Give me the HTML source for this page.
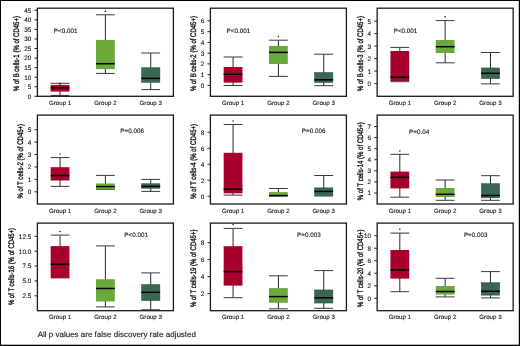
<!DOCTYPE html>
<html><head><meta charset="utf-8"><style>
html,body{margin:0;padding:0;background:#fff;}
body{width:520px;height:346px;overflow:hidden;}
svg{display:block;will-change:transform;}
text{font-family:"Liberation Sans", sans-serif;fill:#111;stroke:#111;stroke-width:0.1px;text-rendering:geometricPrecision;}
.tl{font-size:6.4px;text-anchor:end;}
.gl{font-size:6.2px;text-anchor:middle;}
.p{font-size:6.3px;}
.yl{font-size:8px;text-anchor:middle;stroke-width:0.35px;}
.ft{font-size:8px;}
.w{stroke:#2a2a2a;stroke-width:1;}
.c{stroke:#3a3a3a;stroke-width:1;}
.m{stroke:#000;stroke-width:1.5;}
.t{stroke:#222;stroke-width:1;}
.f{fill:none;stroke:#1a1a1a;stroke-width:1.3;}
</style></head><body>
<svg width="520" height="346" viewBox="0 0 520 346">
<rect x="0" y="0" width="520" height="346" fill="#fff"/>
<rect x="0" y="0" width="520" height="1" fill="#000"/>
<rect x="0" y="0" width="1" height="346" fill="#000"/>
<rect x="518.8" y="0" width="1.2" height="346" fill="#000"/>
<rect x="0" y="344.7" width="520" height="1.3" fill="#000"/>
<line class="w" x1="60.07" y1="83.30" x2="60.07" y2="95.40"/>
<line class="c" x1="50.67" y1="83.30" x2="69.47" y2="83.30"/>
<line class="c" x1="50.67" y1="95.40" x2="69.47" y2="95.40"/>
<rect x="50.67" y="84.90" width="18.80" height="6.70" fill="#a8002c"/>
<line class="m" x1="50.67" y1="87.80" x2="69.47" y2="87.80"/>
<circle cx="60.07" cy="83.30" r="0.75" fill="#111"/>
<line class="w" x1="105.40" y1="14.80" x2="105.40" y2="73.40"/>
<line class="c" x1="96.00" y1="14.80" x2="114.80" y2="14.80"/>
<line class="c" x1="96.00" y1="73.40" x2="114.80" y2="73.40"/>
<rect x="96.00" y="39.90" width="18.80" height="29.20" fill="#6aaa3c"/>
<line class="m" x1="96.00" y1="63.70" x2="114.80" y2="63.70"/>
<circle cx="105.40" cy="11.50" r="0.75" fill="#111"/>
<line class="w" x1="150.73" y1="53.00" x2="150.73" y2="89.60"/>
<line class="c" x1="141.33" y1="53.00" x2="160.13" y2="53.00"/>
<line class="c" x1="141.33" y1="89.60" x2="160.13" y2="89.60"/>
<rect x="141.58" y="67.75" width="18.30" height="14.60" fill="#3a6652" stroke="#24503b" stroke-width="0.5"/>
<line class="m" x1="141.33" y1="78.40" x2="160.13" y2="78.40"/>
<rect class="f" x="37.4" y="8.2" width="136.0" height="88.10"/>
<line class="t" x1="34.50" y1="96.30" x2="37.40" y2="96.30"/>
<text class="tl" x="31.30" y="98.70">0</text>
<line class="t" x1="34.50" y1="86.75" x2="37.40" y2="86.75"/>
<text class="tl" x="31.30" y="89.15">5</text>
<line class="t" x1="34.50" y1="77.19" x2="37.40" y2="77.19"/>
<text class="tl" x="31.30" y="79.59">10</text>
<line class="t" x1="34.50" y1="67.63" x2="37.40" y2="67.63"/>
<text class="tl" x="31.30" y="70.03">15</text>
<line class="t" x1="34.50" y1="58.08" x2="37.40" y2="58.08"/>
<text class="tl" x="31.30" y="60.48">20</text>
<line class="t" x1="34.50" y1="48.52" x2="37.40" y2="48.52"/>
<text class="tl" x="31.30" y="50.92">25</text>
<line class="t" x1="34.50" y1="38.97" x2="37.40" y2="38.97"/>
<text class="tl" x="31.30" y="41.37">30</text>
<line class="t" x1="34.50" y1="29.41" x2="37.40" y2="29.41"/>
<text class="tl" x="31.30" y="31.81">35</text>
<line class="t" x1="34.50" y1="19.86" x2="37.40" y2="19.86"/>
<text class="tl" x="31.30" y="22.26">40</text>
<line class="t" x1="34.50" y1="10.30" x2="37.40" y2="10.30"/>
<text class="tl" x="31.30" y="12.70">45</text>
<text class="gl" x="60.07" y="105.00">Group 1</text>
<text class="gl" x="105.40" y="105.00">Group 2</text>
<text class="gl" x="150.73" y="105.00">Group 3</text>
<text class="p" x="53.80" y="33.00">P&lt;0.001</text>
<text class="yl" textLength="74.90" lengthAdjust="spacingAndGlyphs" transform="translate(19.05,53.55) rotate(-90)">% of B cells-1 (% of CD45+)</text>
<line class="w" x1="233.07" y1="57.00" x2="233.07" y2="85.50"/>
<line class="c" x1="223.67" y1="57.00" x2="242.47" y2="57.00"/>
<line class="c" x1="223.67" y1="85.50" x2="242.47" y2="85.50"/>
<rect x="223.67" y="67.00" width="18.80" height="15.60" fill="#a8002c"/>
<line class="m" x1="223.67" y1="74.30" x2="242.47" y2="74.30"/>
<line class="w" x1="278.40" y1="40.20" x2="278.40" y2="76.40"/>
<line class="c" x1="269.00" y1="40.20" x2="287.80" y2="40.20"/>
<line class="c" x1="269.00" y1="76.40" x2="287.80" y2="76.40"/>
<rect x="269.00" y="45.90" width="18.80" height="18.10" fill="#6aaa3c"/>
<line class="m" x1="269.00" y1="52.40" x2="287.80" y2="52.40"/>
<circle cx="278.40" cy="36.50" r="0.75" fill="#111"/>
<line class="w" x1="323.73" y1="54.20" x2="323.73" y2="85.70"/>
<line class="c" x1="314.33" y1="54.20" x2="333.13" y2="54.20"/>
<line class="c" x1="314.33" y1="85.70" x2="333.13" y2="85.70"/>
<rect x="314.58" y="72.45" width="18.30" height="10.10" fill="#3a6652" stroke="#24503b" stroke-width="0.5"/>
<line class="m" x1="314.33" y1="79.80" x2="333.13" y2="79.80"/>
<rect class="f" x="210.4" y="8.2" width="136.0" height="88.10"/>
<line class="t" x1="207.50" y1="85.40" x2="210.40" y2="85.40"/>
<text class="tl" x="204.30" y="87.80">0</text>
<line class="t" x1="207.50" y1="74.65" x2="210.40" y2="74.65"/>
<text class="tl" x="204.30" y="77.05">1</text>
<line class="t" x1="207.50" y1="63.90" x2="210.40" y2="63.90"/>
<text class="tl" x="204.30" y="66.30">2</text>
<line class="t" x1="207.50" y1="53.15" x2="210.40" y2="53.15"/>
<text class="tl" x="204.30" y="55.55">3</text>
<line class="t" x1="207.50" y1="42.40" x2="210.40" y2="42.40"/>
<text class="tl" x="204.30" y="44.80">4</text>
<line class="t" x1="207.50" y1="31.65" x2="210.40" y2="31.65"/>
<text class="tl" x="204.30" y="34.05">5</text>
<line class="t" x1="207.50" y1="20.90" x2="210.40" y2="20.90"/>
<text class="tl" x="204.30" y="23.30">6</text>
<text class="gl" x="233.07" y="105.00">Group 1</text>
<text class="gl" x="278.40" y="105.00">Group 2</text>
<text class="gl" x="323.73" y="105.00">Group 3</text>
<text class="p" x="226.60" y="32.70">P&lt;0.001</text>
<text class="yl" textLength="74.90" lengthAdjust="spacingAndGlyphs" transform="translate(195.80,53.55) rotate(-90)">% of B cells-2 (% of CD45+)</text>
<line class="w" x1="399.82" y1="47.40" x2="399.82" y2="81.70"/>
<line class="c" x1="390.42" y1="47.40" x2="409.22" y2="47.40"/>
<line class="c" x1="390.42" y1="81.70" x2="409.22" y2="81.70"/>
<rect x="390.42" y="51.00" width="18.80" height="30.00" fill="#a8002c"/>
<line class="m" x1="390.42" y1="77.30" x2="409.22" y2="77.30"/>
<line class="w" x1="445.15" y1="20.60" x2="445.15" y2="62.80"/>
<line class="c" x1="435.75" y1="20.60" x2="454.55" y2="20.60"/>
<line class="c" x1="435.75" y1="62.80" x2="454.55" y2="62.80"/>
<rect x="435.75" y="40.00" width="18.80" height="13.00" fill="#6aaa3c"/>
<line class="m" x1="435.75" y1="46.70" x2="454.55" y2="46.70"/>
<circle cx="445.15" cy="16.70" r="0.75" fill="#111"/>
<line class="w" x1="490.48" y1="52.50" x2="490.48" y2="83.90"/>
<line class="c" x1="481.08" y1="52.50" x2="499.88" y2="52.50"/>
<line class="c" x1="481.08" y1="83.90" x2="499.88" y2="83.90"/>
<rect x="481.33" y="67.95" width="18.30" height="10.70" fill="#3a6652" stroke="#24503b" stroke-width="0.5"/>
<line class="m" x1="481.08" y1="73.30" x2="499.88" y2="73.30"/>
<rect class="f" x="377.15" y="8.2" width="136.0" height="88.10"/>
<line class="t" x1="374.25" y1="83.60" x2="377.15" y2="83.60"/>
<text class="tl" x="371.05" y="86.00">0</text>
<line class="t" x1="374.25" y1="71.10" x2="377.15" y2="71.10"/>
<text class="tl" x="371.05" y="73.50">1</text>
<line class="t" x1="374.25" y1="58.60" x2="377.15" y2="58.60"/>
<text class="tl" x="371.05" y="61.00">2</text>
<line class="t" x1="374.25" y1="46.10" x2="377.15" y2="46.10"/>
<text class="tl" x="371.05" y="48.50">3</text>
<line class="t" x1="374.25" y1="33.60" x2="377.15" y2="33.60"/>
<text class="tl" x="371.05" y="36.00">4</text>
<line class="t" x1="374.25" y1="21.10" x2="377.15" y2="21.10"/>
<text class="tl" x="371.05" y="23.50">5</text>
<text class="gl" x="399.82" y="105.00">Group 1</text>
<text class="gl" x="445.15" y="105.00">Group 2</text>
<text class="gl" x="490.48" y="105.00">Group 3</text>
<text class="p" x="393.70" y="33.20">P&lt;0.001</text>
<text class="yl" textLength="74.90" lengthAdjust="spacingAndGlyphs" transform="translate(362.80,53.55) rotate(-90)">% of B cells-3 (% of CD45+)</text>
<line class="w" x1="60.07" y1="157.60" x2="60.07" y2="186.40"/>
<line class="c" x1="50.67" y1="157.60" x2="69.47" y2="157.60"/>
<line class="c" x1="50.67" y1="186.40" x2="69.47" y2="186.40"/>
<rect x="50.67" y="167.20" width="18.80" height="13.30" fill="#a8002c"/>
<line class="m" x1="50.67" y1="175.50" x2="69.47" y2="175.50"/>
<circle cx="60.07" cy="154.10" r="0.75" fill="#111"/>
<line class="w" x1="105.40" y1="175.40" x2="105.40" y2="189.50"/>
<line class="c" x1="96.00" y1="175.40" x2="114.80" y2="175.40"/>
<line class="c" x1="96.00" y1="189.50" x2="114.80" y2="189.50"/>
<rect x="96.00" y="183.50" width="18.80" height="6.00" fill="#6aaa3c"/>
<line class="m" x1="96.00" y1="186.60" x2="114.80" y2="186.60"/>
<line class="w" x1="150.73" y1="179.40" x2="150.73" y2="191.40"/>
<line class="c" x1="141.33" y1="179.40" x2="160.13" y2="179.40"/>
<line class="c" x1="141.33" y1="191.40" x2="160.13" y2="191.40"/>
<rect x="141.58" y="183.75" width="18.30" height="4.50" fill="#3a6652" stroke="#24503b" stroke-width="0.5"/>
<line class="m" x1="141.33" y1="186.40" x2="160.13" y2="186.40"/>
<rect class="f" x="37.4" y="115.1" width="136.0" height="88.90"/>
<line class="t" x1="34.50" y1="191.80" x2="37.40" y2="191.80"/>
<text class="tl" x="31.30" y="194.20">0</text>
<line class="t" x1="34.50" y1="179.38" x2="37.40" y2="179.38"/>
<text class="tl" x="31.30" y="181.78">1</text>
<line class="t" x1="34.50" y1="166.96" x2="37.40" y2="166.96"/>
<text class="tl" x="31.30" y="169.36">2</text>
<line class="t" x1="34.50" y1="154.54" x2="37.40" y2="154.54"/>
<text class="tl" x="31.30" y="156.94">3</text>
<line class="t" x1="34.50" y1="142.12" x2="37.40" y2="142.12"/>
<text class="tl" x="31.30" y="144.52">4</text>
<line class="t" x1="34.50" y1="129.70" x2="37.40" y2="129.70"/>
<text class="tl" x="31.30" y="132.10">5</text>
<text class="gl" x="60.07" y="212.70">Group 1</text>
<text class="gl" x="105.40" y="212.70">Group 2</text>
<text class="gl" x="150.73" y="212.70">Group 3</text>
<text class="p" x="120.30" y="132.90">P=0.006</text>
<text class="yl" textLength="74.60" lengthAdjust="spacingAndGlyphs" transform="translate(23.00,161.20) rotate(-90)">% of T cells-2 (% of CD45+)</text>
<line class="w" x1="233.07" y1="124.50" x2="233.07" y2="195.10"/>
<line class="c" x1="223.67" y1="124.50" x2="242.47" y2="124.50"/>
<line class="c" x1="223.67" y1="195.10" x2="242.47" y2="195.10"/>
<rect x="223.67" y="152.80" width="18.80" height="40.50" fill="#a8002c"/>
<line class="m" x1="223.67" y1="189.30" x2="242.47" y2="189.30"/>
<circle cx="233.07" cy="121.00" r="0.75" fill="#111"/>
<line class="w" x1="278.40" y1="188.50" x2="278.40" y2="196.00"/>
<line class="c" x1="269.00" y1="188.50" x2="287.80" y2="188.50"/>
<line class="c" x1="269.00" y1="196.00" x2="287.80" y2="196.00"/>
<rect x="269.00" y="192.10" width="18.80" height="3.90" fill="#6aaa3c"/>
<line class="m" x1="269.00" y1="195.60" x2="287.80" y2="195.60"/>
<line class="w" x1="323.73" y1="175.50" x2="323.73" y2="196.00"/>
<line class="c" x1="314.33" y1="175.50" x2="333.13" y2="175.50"/>
<line class="c" x1="314.33" y1="196.00" x2="333.13" y2="196.00"/>
<rect x="314.58" y="187.85" width="18.30" height="7.60" fill="#3a6652" stroke="#24503b" stroke-width="0.5"/>
<line class="m" x1="314.33" y1="191.40" x2="333.13" y2="191.40"/>
<rect class="f" x="210.4" y="115.1" width="136.0" height="88.90"/>
<line class="t" x1="207.50" y1="196.20" x2="210.40" y2="196.20"/>
<text class="tl" x="204.30" y="198.60">0</text>
<line class="t" x1="207.50" y1="180.22" x2="210.40" y2="180.22"/>
<text class="tl" x="204.30" y="182.62">2</text>
<line class="t" x1="207.50" y1="164.24" x2="210.40" y2="164.24"/>
<text class="tl" x="204.30" y="166.64">4</text>
<line class="t" x1="207.50" y1="148.26" x2="210.40" y2="148.26"/>
<text class="tl" x="204.30" y="150.66">6</text>
<line class="t" x1="207.50" y1="132.28" x2="210.40" y2="132.28"/>
<text class="tl" x="204.30" y="134.68">8</text>
<text class="gl" x="233.07" y="212.70">Group 1</text>
<text class="gl" x="278.40" y="212.70">Group 2</text>
<text class="gl" x="323.73" y="212.70">Group 3</text>
<text class="p" x="301.80" y="133.00">P=0.006</text>
<text class="yl" textLength="74.90" lengthAdjust="spacingAndGlyphs" transform="translate(195.80,161.35) rotate(-90)">% of T cells-4 (% of CD45+)</text>
<line class="w" x1="399.82" y1="154.30" x2="399.82" y2="197.20"/>
<line class="c" x1="390.42" y1="154.30" x2="409.22" y2="154.30"/>
<line class="c" x1="390.42" y1="197.20" x2="409.22" y2="197.20"/>
<rect x="390.42" y="171.60" width="18.80" height="16.80" fill="#a8002c"/>
<line class="m" x1="390.42" y1="177.40" x2="409.22" y2="177.40"/>
<circle cx="399.82" cy="150.90" r="0.75" fill="#111"/>
<line class="w" x1="445.15" y1="180.00" x2="445.15" y2="200.30"/>
<line class="c" x1="435.75" y1="180.00" x2="454.55" y2="180.00"/>
<line class="c" x1="435.75" y1="200.30" x2="454.55" y2="200.30"/>
<rect x="435.75" y="188.00" width="18.80" height="8.90" fill="#6aaa3c"/>
<line class="m" x1="435.75" y1="194.30" x2="454.55" y2="194.30"/>
<line class="w" x1="490.48" y1="175.70" x2="490.48" y2="200.30"/>
<line class="c" x1="481.08" y1="175.70" x2="499.88" y2="175.70"/>
<line class="c" x1="481.08" y1="200.30" x2="499.88" y2="200.30"/>
<rect x="481.33" y="183.65" width="18.30" height="14.20" fill="#3a6652" stroke="#24503b" stroke-width="0.5"/>
<line class="m" x1="481.08" y1="195.50" x2="499.88" y2="195.50"/>
<rect class="f" x="377.15" y="115.1" width="136.0" height="88.90"/>
<line class="t" x1="374.25" y1="193.00" x2="377.15" y2="193.00"/>
<text class="tl" x="371.05" y="195.40">1</text>
<line class="t" x1="374.25" y1="181.92" x2="377.15" y2="181.92"/>
<text class="tl" x="371.05" y="184.32">2</text>
<line class="t" x1="374.25" y1="170.84" x2="377.15" y2="170.84"/>
<text class="tl" x="371.05" y="173.24">3</text>
<line class="t" x1="374.25" y1="159.76" x2="377.15" y2="159.76"/>
<text class="tl" x="371.05" y="162.16">4</text>
<line class="t" x1="374.25" y1="148.68" x2="377.15" y2="148.68"/>
<text class="tl" x="371.05" y="151.08">5</text>
<line class="t" x1="374.25" y1="137.60" x2="377.15" y2="137.60"/>
<text class="tl" x="371.05" y="140.00">6</text>
<line class="t" x1="374.25" y1="126.52" x2="377.15" y2="126.52"/>
<text class="tl" x="371.05" y="128.92">7</text>
<text class="gl" x="399.82" y="212.70">Group 1</text>
<text class="gl" x="445.15" y="212.70">Group 2</text>
<text class="gl" x="490.48" y="212.70">Group 3</text>
<text class="p" x="409.10" y="134.40">P=0.04</text>
<text class="yl" textLength="77.90" lengthAdjust="spacingAndGlyphs" transform="translate(362.60,161.25) rotate(-90)">% of T cells-14 (% of CD45+)</text>
<line class="w" x1="60.07" y1="235.10" x2="60.07" y2="277.90"/>
<line class="c" x1="50.67" y1="235.10" x2="69.47" y2="235.10"/>
<line class="c" x1="50.67" y1="277.90" x2="69.47" y2="277.90"/>
<rect x="50.67" y="246.10" width="18.80" height="31.80" fill="#a8002c"/>
<line class="m" x1="50.67" y1="264.30" x2="69.47" y2="264.30"/>
<circle cx="60.07" cy="231.60" r="0.75" fill="#111"/>
<line class="w" x1="105.40" y1="245.90" x2="105.40" y2="306.90"/>
<line class="c" x1="96.00" y1="245.90" x2="114.80" y2="245.90"/>
<line class="c" x1="96.00" y1="306.90" x2="114.80" y2="306.90"/>
<rect x="96.00" y="279.20" width="18.80" height="22.30" fill="#6aaa3c"/>
<line class="m" x1="96.00" y1="288.50" x2="114.80" y2="288.50"/>
<line class="w" x1="150.73" y1="272.90" x2="150.73" y2="309.80"/>
<line class="c" x1="141.33" y1="272.90" x2="160.13" y2="272.90"/>
<line class="c" x1="141.33" y1="309.80" x2="160.13" y2="309.80"/>
<rect x="141.58" y="284.55" width="18.30" height="16.10" fill="#3a6652" stroke="#24503b" stroke-width="0.5"/>
<line class="m" x1="141.33" y1="292.30" x2="160.13" y2="292.30"/>
<rect class="f" x="37.4" y="223.1" width="136.0" height="87.60"/>
<line class="t" x1="34.50" y1="295.80" x2="37.40" y2="295.80"/>
<text class="tl" x="31.30" y="298.20">2.5</text>
<line class="t" x1="34.50" y1="280.93" x2="37.40" y2="280.93"/>
<text class="tl" x="31.30" y="283.32">5.0</text>
<line class="t" x1="34.50" y1="266.05" x2="37.40" y2="266.05"/>
<text class="tl" x="31.30" y="268.45">7.5</text>
<line class="t" x1="34.50" y1="251.18" x2="37.40" y2="251.18"/>
<text class="tl" x="31.30" y="253.58">10.0</text>
<line class="t" x1="34.50" y1="236.30" x2="37.40" y2="236.30"/>
<text class="tl" x="31.30" y="238.70">12.5</text>
<text class="gl" x="60.07" y="319.40">Group 1</text>
<text class="gl" x="105.40" y="319.40">Group 2</text>
<text class="gl" x="150.73" y="319.40">Group 3</text>
<text class="p" x="124.30" y="236.80">P&lt;0.001</text>
<text class="yl" textLength="77.20" lengthAdjust="spacingAndGlyphs" transform="translate(14.10,266.50) rotate(-90)">% of T cells-16 (% of CD45+)</text>
<line class="w" x1="233.07" y1="228.40" x2="233.07" y2="297.70"/>
<line class="c" x1="223.67" y1="228.40" x2="242.47" y2="228.40"/>
<line class="c" x1="223.67" y1="297.70" x2="242.47" y2="297.70"/>
<rect x="223.67" y="246.20" width="18.80" height="39.40" fill="#a8002c"/>
<line class="m" x1="223.67" y1="271.60" x2="242.47" y2="271.60"/>
<circle cx="233.07" cy="224.50" r="0.75" fill="#111"/>
<line class="w" x1="278.40" y1="275.80" x2="278.40" y2="308.80"/>
<line class="c" x1="269.00" y1="275.80" x2="287.80" y2="275.80"/>
<line class="c" x1="269.00" y1="308.80" x2="287.80" y2="308.80"/>
<rect x="269.00" y="288.10" width="18.80" height="14.70" fill="#6aaa3c"/>
<line class="m" x1="269.00" y1="296.60" x2="287.80" y2="296.60"/>
<line class="w" x1="323.73" y1="270.60" x2="323.73" y2="308.30"/>
<line class="c" x1="314.33" y1="270.60" x2="333.13" y2="270.60"/>
<line class="c" x1="314.33" y1="308.30" x2="333.13" y2="308.30"/>
<rect x="314.58" y="289.95" width="18.30" height="13.10" fill="#3a6652" stroke="#24503b" stroke-width="0.5"/>
<line class="m" x1="314.33" y1="297.80" x2="333.13" y2="297.80"/>
<rect class="f" x="210.4" y="223.1" width="136.0" height="87.60"/>
<line class="t" x1="207.50" y1="293.58" x2="210.40" y2="293.58"/>
<text class="tl" x="204.30" y="295.98">2</text>
<line class="t" x1="207.50" y1="276.62" x2="210.40" y2="276.62"/>
<text class="tl" x="204.30" y="279.02">4</text>
<line class="t" x1="207.50" y1="259.66" x2="210.40" y2="259.66"/>
<text class="tl" x="204.30" y="262.06">6</text>
<line class="t" x1="207.50" y1="242.70" x2="210.40" y2="242.70"/>
<text class="tl" x="204.30" y="245.10">8</text>
<text class="gl" x="233.07" y="319.40">Group 1</text>
<text class="gl" x="278.40" y="319.40">Group 2</text>
<text class="gl" x="323.73" y="319.40">Group 3</text>
<text class="p" x="297.10" y="236.80">P=0.003</text>
<text class="yl" textLength="77.50" lengthAdjust="spacingAndGlyphs" transform="translate(195.90,268.35) rotate(-90)">% of T cells-19 (% of CD45+)</text>
<line class="w" x1="399.82" y1="233.10" x2="399.82" y2="291.70"/>
<line class="c" x1="390.42" y1="233.10" x2="409.22" y2="233.10"/>
<line class="c" x1="390.42" y1="291.70" x2="409.22" y2="291.70"/>
<rect x="390.42" y="250.00" width="18.80" height="28.60" fill="#a8002c"/>
<line class="m" x1="390.42" y1="270.00" x2="409.22" y2="270.00"/>
<circle cx="399.82" cy="229.30" r="0.75" fill="#111"/>
<line class="w" x1="445.15" y1="278.30" x2="445.15" y2="296.90"/>
<line class="c" x1="435.75" y1="278.30" x2="454.55" y2="278.30"/>
<line class="c" x1="435.75" y1="296.90" x2="454.55" y2="296.90"/>
<rect x="435.75" y="286.00" width="18.80" height="8.60" fill="#6aaa3c"/>
<line class="m" x1="435.75" y1="291.50" x2="454.55" y2="291.50"/>
<line class="w" x1="490.48" y1="271.60" x2="490.48" y2="297.90"/>
<line class="c" x1="481.08" y1="271.60" x2="499.88" y2="271.60"/>
<line class="c" x1="481.08" y1="297.90" x2="499.88" y2="297.90"/>
<rect x="481.33" y="282.65" width="18.30" height="12.50" fill="#3a6652" stroke="#24503b" stroke-width="0.5"/>
<line class="m" x1="481.08" y1="291.30" x2="499.88" y2="291.30"/>
<rect class="f" x="377.15" y="223.1" width="136.0" height="87.60"/>
<line class="t" x1="374.25" y1="298.30" x2="377.15" y2="298.30"/>
<text class="tl" x="371.05" y="300.70">0</text>
<line class="t" x1="374.25" y1="285.78" x2="377.15" y2="285.78"/>
<text class="tl" x="371.05" y="288.18">2</text>
<line class="t" x1="374.25" y1="273.26" x2="377.15" y2="273.26"/>
<text class="tl" x="371.05" y="275.66">4</text>
<line class="t" x1="374.25" y1="260.74" x2="377.15" y2="260.74"/>
<text class="tl" x="371.05" y="263.14">6</text>
<line class="t" x1="374.25" y1="248.22" x2="377.15" y2="248.22"/>
<text class="tl" x="371.05" y="250.62">8</text>
<line class="t" x1="374.25" y1="235.70" x2="377.15" y2="235.70"/>
<text class="tl" x="371.05" y="238.10">10</text>
<text class="gl" x="399.82" y="319.40">Group 1</text>
<text class="gl" x="445.15" y="319.40">Group 2</text>
<text class="gl" x="490.48" y="319.40">Group 3</text>
<text class="p" x="463.90" y="237.40">P=0.003</text>
<text class="yl" textLength="77.60" lengthAdjust="spacingAndGlyphs" transform="translate(362.60,268.30) rotate(-90)">% of T cells-20 (% of CD45+)</text>
<text class="ft" x="37.7" y="337.3">All p values are false discovery rate adjusted</text>
</svg>
</body></html>
